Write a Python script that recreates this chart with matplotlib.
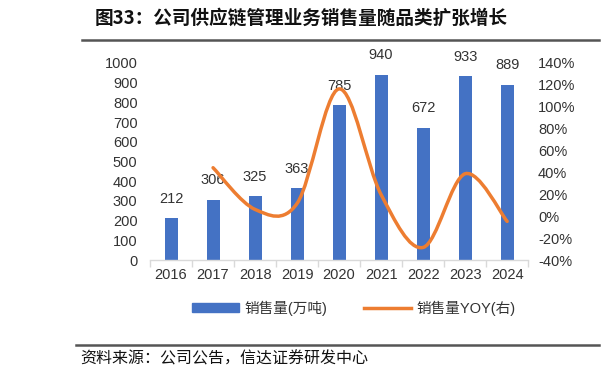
import matplotlib
matplotlib.use("Agg")
import matplotlib.pyplot as plt
from matplotlib.path import Path
from matplotlib.patches import PathPatch
from matplotlib.lines import Line2D
from matplotlib.patches import Patch
import numpy as np

plt.rcParams['font.family'] = ['Liberation Sans', 'Noto Sans CJK SC', 'DejaVu Sans']

years = ['2016', '2017', '2018', '2019', '2020', '2021', '2022', '2023', '2024']
sales = [212, 306, 325, 363, 785, 940, 672, 933, 889]
yoy_years_idx = [1, 2, 3, 4, 5, 6, 7, 8]
yoy = [0.443, 0.062, 0.117, 1.163, 0.197, -0.285, 0.388, -0.047]

bar_color = '#4472C4'
line_color = '#ED7D31'

fig = plt.figure(figsize=(6.05, 3.77), dpi=100)
ax = fig.add_axes([0.248, 0.3103, 0.625, 0.5227])
ax2 = ax.twinx()

x = np.arange(len(years))
ax.bar(x, sales, width=0.31, color=bar_color, zorder=2)
for xi, v in zip(x, sales):
    ax.annotate(str(v), (xi, v), xytext=(0, 14), textcoords='offset points',
                ha='center', va='center', fontsize=10.5, color='#333333')

ax.set_xlim(-0.5, 8.5)
ax.set_ylim(0, 1000)
ax.set_yticks(range(0, 1001, 100))
ax.set_xticks(x)
ax.set_xticklabels(years)
ax.tick_params(axis='y', length=0, labelsize=10.5, labelcolor='#333333', pad=9)
ax.tick_params(axis='x', length=0, labelsize=10.5, labelcolor='#333333', pad=6)
ax.set_xticks(np.arange(-0.5, 9, 1), minor=True)
ax.tick_params(axis='x', which='minor', length=5, color='#D9D9D9', width=1)
for s in ['top', 'right', 'left']:
    ax.spines[s].set_visible(False)
ax.spines['bottom'].set_color('#D9D9D9')
ax.spines['bottom'].set_linewidth(1)

# smoothed YOY line (bezier through data points)
xs = np.array(yoy_years_idx, dtype=float)
ys = np.array(yoy, dtype=float)
ax2.set_ylim(-0.4, 1.4)
ax2.set_yticks(np.arange(-0.4, 1.41, 0.2))
ax2.set_yticklabels([f'{int(round(v*100))}%' for v in np.arange(-0.4, 1.41, 0.2)])
ax2.tick_params(axis='y', length=0, labelsize=10.5, labelcolor='#333333', pad=7)
for s in ['top', 'right', 'left', 'bottom']:
    ax2.spines[s].set_visible(False)

verts = [(xs[0], ys[0])]
codes = [Path.MOVETO]
n = len(xs)
t = 1.0 / 6.0
for i in range(n - 1):
    p0 = (xs[i - 1], ys[i - 1]) if i > 0 else (xs[i], ys[i])
    p1 = (xs[i], ys[i])
    p2 = (xs[i + 1], ys[i + 1])
    p3 = (xs[i + 2], ys[i + 2]) if i + 2 < n else (xs[i + 1], ys[i + 1])
    c1 = (p1[0] + (p2[0] - p0[0]) * t, p1[1] + (p2[1] - p0[1]) * t)
    c2 = (p2[0] - (p3[0] - p1[0]) * t, p2[1] - (p3[1] - p1[1]) * t)
    verts += [c1, c2, p2]
    codes += [Path.CURVE4, Path.CURVE4, Path.CURVE4]
path = Path(verts, codes)
ax2.add_patch(PathPatch(path, facecolor='none', edgecolor=line_color, lw=2.5,
                        capstyle='round', zorder=3))

# legend
handles = [Patch(facecolor=bar_color, edgecolor=bar_color),
           Line2D([0], [0], color=line_color, lw=2.5)]
fig.legend(handles, ['销售量(万吨)', '销售量YOY(右)'], loc='center',
           bbox_to_anchor=(0.585, 0.183), ncol=2, frameon=False, fontsize=10.5,
           handlelength=3.2, handleheight=0.5, columnspacing=2.5, handletextpad=0.4)
for t_ in fig.legends[0].get_texts():
    t_.set_color('#333333')

# title
fig.text(0.157, 0.952, '图33：公司供应链管理业务销售量随品类扩张增长',
         fontsize=13.4, fontweight='bold', family=['Noto Sans CJK SC'],
         ha='left', va='center', color='#111111')
fig.add_artist(Line2D([0.135, 0.99], [0.893, 0.893], color='#555555', lw=1.8,
                      transform=fig.transFigure))
fig.add_artist(Line2D([0.125, 0.99], [0.085, 0.085], color='#555555', lw=1.8,
                      transform=fig.transFigure))
fig.text(0.132, 0.048, '资料来源：公司公告，信达证券研发中心', fontsize=11.5,
         family=['Noto Sans CJK SC'], style='italic', ha='left', va='center', color='#111111')

fig.savefig('out.png', dpi=100)
